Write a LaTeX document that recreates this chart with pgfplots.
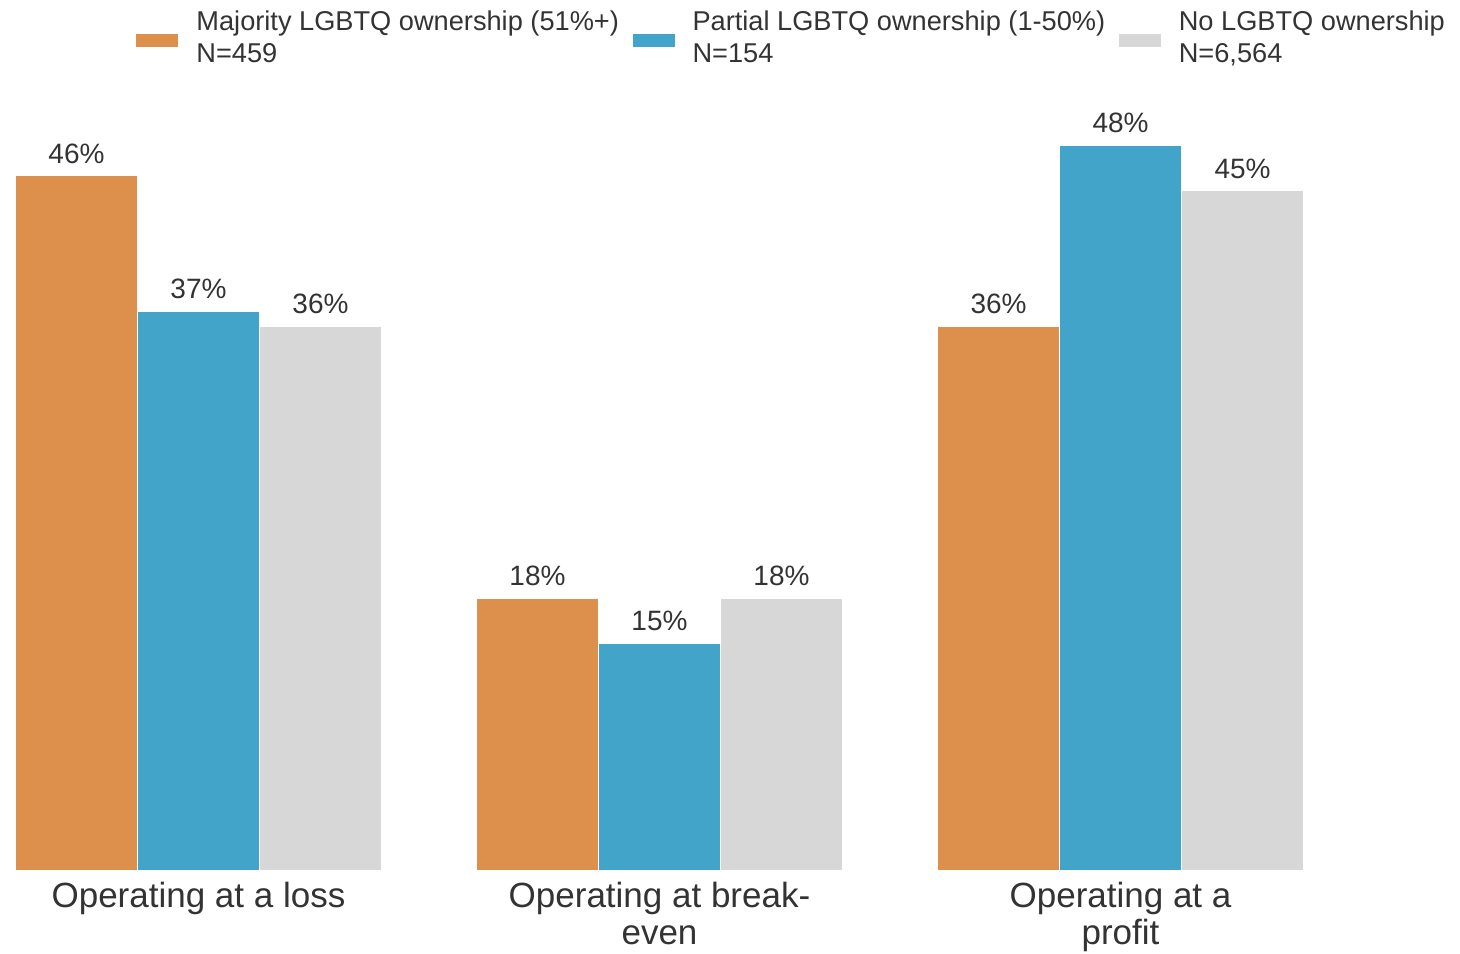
\documentclass[border=0pt]{standalone}
\usepackage{fontspec}
\setmainfont{Liberation Sans}
\usepackage{pgfplots}
\pgfplotsset{compat=1.18}
\definecolor{cOrange}{RGB}{221,143,76}
\definecolor{cBlue}{RGB}{66,164,200}
\definecolor{cGray}{RGB}{215,215,215}
\definecolor{cText}{RGB}{51,51,51}
\begin{document}
\begin{tikzpicture}
\begin{axis}[
 name=ax, at={(0,0)}, anchor=south west,
 scale only axis, width=644.5pt, height=377.25pt,
 xmin=-0.398, xmax=2.398, ymin=0, ymax=50,
 ybar=0pt, bar width=61pt,
 axis line style={draw=none},
 ymajorticks=false,
 xtick={0,1,2},
 xticklabels={Operating at a loss, {Operating at break-\\even}, {Operating at a\\profit}},
 major tick length=0pt,
 /pgf/number format/assume math mode=true,
 xticklabel style={align=center, font=\fontsize{17.5}{18.5}\selectfont, text=cText, inner sep=0pt, yshift=-6pt},
 nodes near coords={\pgfmathprintnumber{\pgfplotspointmeta}\%},
 nodes near coords style={font=\fontsize{14}{16}\selectfont, text=cText, inner sep=0pt, yshift=6pt},
 legend columns=3,
 legend style={at={(0.0939,1.145)}, anchor=north west, draw=none, fill=none, inner sep=0pt,
   font=\fontsize{13.6}{16}\selectfont, text=cText, cells={align=left},
   /tikz/every even column/.append style={column sep=4.8pt},
   /tikz/every odd column/.append style={column sep=7pt}},
 legend image code/.code={\fill[#1,draw=none] (0pt,-4.75pt) rectangle (21pt,1.75pt);},
 clip=false,
]
\addplot[fill=cOrange, draw=white, line width=0.5pt] coordinates {(0,46) (1,18) (2,36)};
\addplot[fill=cBlue, draw=white, line width=0.5pt] coordinates {(0,37) (1,15) (2,48)};
\addplot[fill=cGray, draw=white, line width=0.5pt] coordinates {(0,36) (1,18) (2,45)};
\legend{{Majority LGBTQ ownership (51\%+)\\N=459},{Partial LGBTQ ownership (1-50\%)\\N=154},{No LGBTQ ownership\\N=6,564}}
\end{axis}
\pgfresetboundingbox
\path[use as bounding box] ([shift={(-7.5pt,-41.5pt)}]ax.south west) rectangle ([shift={(722.5pt,435pt)}]ax.south west);
\end{tikzpicture}
\end{document}
